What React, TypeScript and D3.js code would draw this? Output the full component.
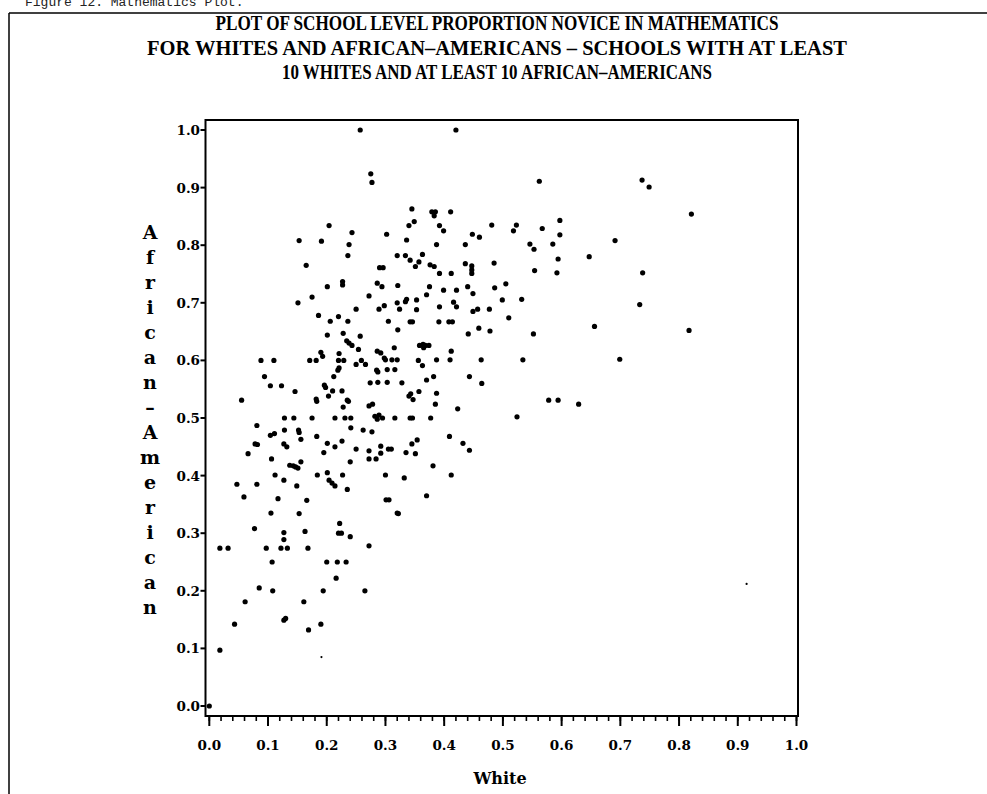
import React from "react";
import * as d3 from "d3";

const titleLines = [
  "PLOT OF SCHOOL LEVEL PROPORTION NOVICE IN MATHEMATICS",
  "FOR WHITES AND AFRICAN\u2013AMERICANS \u2013 SCHOOLS WITH AT LEAST",
  "10 WHITES AND AT LEAST 10 AFRICAN\u2013AMERICANS",
];
const caption = "Figure 12. Mathematics Plot.";
const xLabel = "White";
const yLabel = "African\u2013American";
const xTicks = [0, 0.1, 0.2, 0.3, 0.4, 0.5, 0.6, 0.7, 0.8, 0.9, 1.0];
const xTickLabels = ["0.0", "0.1", "0.2", "0.3", "0.4", "0.5", "0.6", "0.7", "0.8", "0.9", "1.0"];
const yTicks = [0, 0.1, 0.2, 0.3, 0.4, 0.5, 0.6, 0.7, 0.8, 0.9, 1.0];
const yTickLabels = ["0.0", "0.1", "0.2", "0.3", "0.4", "0.5", "0.6", "0.7", "0.8", "0.9", "1.0"];

// proportion novice: white (x), African-American (y)
const white = [
  0.257, 0.275, 0.277, 0.204, 0.153, 0.191, 0.243, 0.238, 0.302, 0.236,
  0.320, 0.165, 0.290, 0.296, 0.227, 0.227, 0.201, 0.286, 0.294, 0.321,
  0.175, 0.272, 0.151, 0.320, 0.298, 0.250, 0.289, 0.186, 0.206, 0.220,
  0.236, 0.305, 0.321, 0.201, 0.228, 0.257, 0.234, 0.238, 0.243, 0.254,
  0.315, 0.286, 0.292, 0.190, 0.193, 0.221, 0.088, 0.110, 0.171, 0.182,
  0.220, 0.229, 0.259, 0.250, 0.266, 0.300, 0.311, 0.320, 0.219, 0.221,
  0.285, 0.287, 0.303, 0.316, 0.094, 0.212, 0.274, 0.287, 0.303, 0.104,
  0.123, 0.196, 0.198, 0.203, 0.210, 0.226, 0.146, 0.235, 0.237, 0.182,
  0.183, 0.055, 0.228, 0.272, 0.278, 0.282, 0.286, 0.289, 0.128, 0.144,
  0.175, 0.214, 0.231, 0.241, 0.316, 0.081, 0.241, 0.152, 0.153, 0.128,
  0.262, 0.277, 0.104, 0.111, 0.156, 0.183, 0.226, 0.078, 0.082, 0.127,
  0.132, 0.201, 0.214, 0.250, 0.272, 0.272, 0.284, 0.292, 0.292, 0.305,
  0.310, 0.195, 0.066, 0.106, 0.240, 0.156, 0.137, 0.143, 0.147, 0.151,
  0.112, 0.184, 0.201, 0.204, 0.209, 0.214, 0.227, 0.300, 0.127, 0.047,
  0.081, 0.149, 0.235, 0.059, 0.117, 0.166, 0.301, 0.306, 0.105, 0.153,
  0.320, 0.077, 0.127, 0.127, 0.163, 0.222, 0.220, 0.225, 0.240, 0.272,
  0.018, 0.032, 0.097, 0.122, 0.133, 0.168, 0.107, 0.200, 0.218, 0.233,
  0.216, 0.085, 0.108, 0.194, 0.265, 0.061, 0.161, 0.043, 0.127, 0.130,
  0.169, 0.190, 0.018, 0.000,
  0.420, 0.562, 0.737, 0.749, 0.821, 0.345, 0.379, 0.385, 0.383, 0.411,
  0.340, 0.349, 0.392, 0.399, 0.336, 0.481, 0.518, 0.523, 0.567, 0.597,
  0.597, 0.448, 0.460, 0.387, 0.436, 0.546, 0.553, 0.585, 0.594, 0.691,
  0.647, 0.334, 0.363, 0.357, 0.351, 0.342, 0.376, 0.383, 0.392, 0.412,
  0.436, 0.447, 0.447, 0.447, 0.485, 0.554, 0.592, 0.738, 0.375, 0.399,
  0.421, 0.440, 0.449, 0.486, 0.505, 0.370, 0.334, 0.336, 0.353, 0.392,
  0.416, 0.421, 0.499, 0.532, 0.733, 0.457, 0.477, 0.324, 0.353,
  0.449, 0.510, 0.342, 0.346, 0.391, 0.408, 0.414, 0.441, 0.459, 0.478,
  0.552, 0.656, 0.817, 0.358, 0.364, 0.368, 0.374, 0.365, 0.412, 0.298,
  0.356, 0.363, 0.387, 0.410, 0.463, 0.534, 0.699, 0.328, 0.370, 0.382,
  0.443, 0.464, 0.357, 0.340, 0.343, 0.347, 0.387, 0.385, 0.423, 0.578,
  0.594, 0.629, 0.295, 0.342, 0.346, 0.377, 0.524, 0.409, 0.432, 0.443,
  0.345, 0.354, 0.335, 0.351, 0.381, 0.332, 0.412, 0.370, 0.322,
];
const africanAmerican = [
  1.000, 0.924, 0.909, 0.834, 0.808, 0.807, 0.822, 0.801, 0.819, 0.782,
  0.782, 0.765, 0.761, 0.761, 0.737, 0.731, 0.728, 0.734, 0.728, 0.730,
  0.710, 0.712, 0.700, 0.700, 0.695, 0.689, 0.689, 0.678, 0.668, 0.676,
  0.668, 0.668, 0.653, 0.644, 0.647, 0.642, 0.634, 0.630, 0.626, 0.619,
  0.622, 0.616, 0.613, 0.614, 0.607, 0.612, 0.600, 0.600, 0.600, 0.600,
  0.600, 0.600, 0.600, 0.593, 0.593, 0.601, 0.601, 0.601, 0.583, 0.587,
  0.583, 0.580, 0.584, 0.584, 0.572, 0.572, 0.561, 0.562, 0.562, 0.556,
  0.556, 0.557, 0.553, 0.538, 0.547, 0.547, 0.546, 0.531, 0.529, 0.533,
  0.529, 0.531, 0.519, 0.521, 0.524, 0.503, 0.498, 0.505, 0.500, 0.500,
  0.500, 0.500, 0.500, 0.500, 0.500, 0.487, 0.483, 0.479, 0.475, 0.479,
  0.479, 0.476, 0.470, 0.473, 0.463, 0.468, 0.460, 0.455, 0.454, 0.455,
  0.450, 0.456, 0.450, 0.446, 0.443, 0.429, 0.429, 0.451, 0.439, 0.446,
  0.446, 0.440, 0.438, 0.429, 0.424, 0.424, 0.418, 0.417, 0.415, 0.413,
  0.401, 0.401, 0.405, 0.392, 0.387, 0.382, 0.401, 0.401, 0.392, 0.385,
  0.385, 0.382, 0.376, 0.363, 0.360, 0.357, 0.358, 0.358, 0.335, 0.334,
  0.335, 0.308, 0.301, 0.289, 0.303, 0.317, 0.300, 0.300, 0.294, 0.278,
  0.274, 0.274, 0.274, 0.274, 0.274, 0.274, 0.250, 0.250, 0.250, 0.250,
  0.222, 0.205, 0.200, 0.200, 0.200, 0.181, 0.181, 0.142, 0.149, 0.152,
  0.132, 0.142, 0.097, 0.000,
  1.000, 0.911, 0.913, 0.901, 0.854, 0.863, 0.858, 0.858, 0.851, 0.858,
  0.834, 0.841, 0.834, 0.825, 0.809, 0.835, 0.825, 0.835, 0.829, 0.843,
  0.818, 0.819, 0.814, 0.801, 0.801, 0.802, 0.793, 0.802, 0.776, 0.808,
  0.780, 0.782, 0.784, 0.771, 0.763, 0.774, 0.766, 0.763, 0.751, 0.751,
  0.768, 0.764, 0.757, 0.751, 0.769, 0.756, 0.752, 0.752, 0.728, 0.722,
  0.722, 0.728, 0.716, 0.726, 0.733, 0.714, 0.702, 0.706, 0.705, 0.693,
  0.701, 0.693, 0.705, 0.706, 0.697, 0.689, 0.689, 0.689, 0.688,
  0.685, 0.674, 0.667, 0.667, 0.667, 0.667, 0.667, 0.646, 0.656, 0.651,
  0.646, 0.659, 0.652, 0.626, 0.628, 0.626, 0.626, 0.622, 0.616, 0.604,
  0.600, 0.591, 0.601, 0.601, 0.601, 0.601, 0.602, 0.561, 0.566, 0.572,
  0.572, 0.560, 0.546, 0.538, 0.542, 0.532, 0.543, 0.524, 0.516, 0.531,
  0.531, 0.524, 0.500, 0.500, 0.500, 0.500, 0.502, 0.468, 0.456, 0.444,
  0.455, 0.462, 0.440, 0.438, 0.417, 0.396, 0.401, 0.365, 0.334,
];
// faint, smaller marks
const whiteFaint = [0.191, 0.915];
const africanAmericanFaint = [0.085, 0.212];

export default function App() {
  const W = 987;
  const H = 794;
  const frame = { left: 205.5, right: 798, top: 120, bottom: 716 };
  const x = d3.scaleLinear().domain([0, 1]).range([209.3, 796.5]);
  const y = d3.scaleLinear().domain([0, 1]).range([706, 130]);
  const minorX = d3.range(0, 1.0001, 0.02);
  const serifBold = "'DejaVu Serif', 'Liberation Serif', serif";
  const titleFont = "'Liberation Serif', 'DejaVu Serif', serif";
  const titleSpans = [
    { cx: 497, base: 30, len: 563 },
    { cx: 497, base: 55, len: 700 },
    { cx: 497, base: 79, len: 430 },
  ];
  const yLetters = Array.from(yLabel);
  const letterStart = 232;
  const letterStep = 25;

  return (
    <svg
      width={W}
      height={H}
      viewBox={`0 0 ${W} ${H}`}
      style={{ position: "absolute", left: 0, top: 0, background: "#fff" }}
    >
      <rect x={0} y={0} width={W} height={H} fill="#fff" />
      {/* partly cut caption at very top, as in the scanned page */}
      <text x={25} y={6} fontFamily="'Liberation Mono', 'DejaVu Sans Mono', monospace" fontSize={13} fill="#222">
        {caption}
      </text>
      {/* outer page frame */}
      <line x1={9} y1={13} x2={W} y2={13} stroke="#000" strokeWidth={1.5} />
      <line x1={9} y1={13} x2={9} y2={H} stroke="#000" strokeWidth={1.5} />

      {titleLines.map((t, i) => (
        <text
          key={i}
          x={titleSpans[i].cx}
          y={titleSpans[i].base}
          textAnchor="middle"
          fontFamily={titleFont}
          fontWeight="bold"
          fontSize={21}
          textLength={titleSpans[i].len}
          lengthAdjust="spacingAndGlyphs"
          fill="#000"
        >
          {t}
        </text>
      ))}

      {/* plot frame */}
      <rect
        x={frame.left}
        y={frame.top}
        width={frame.right - frame.left}
        height={frame.bottom - frame.top}
        fill="none"
        stroke="#000"
        strokeWidth={2}
      />

      {/* x ticks */}
      {minorX.map((v, i) => (
        <line key={"mx" + i} x1={x(v)} x2={x(v)} y1={frame.bottom} y2={frame.bottom + 5} stroke="#000" strokeWidth={1.6} />
      ))}
      {xTicks.map((v, i) => (
        <g key={"xt" + i}>
          <line x1={x(v)} x2={x(v)} y1={frame.bottom} y2={frame.bottom + 10} stroke="#000" strokeWidth={2} />
          <text
            x={x(v)}
            y={750}
            textAnchor="middle"
            fontFamily={serifBold}
            fontWeight="bold"
            fontSize={13.5}
            fill="#000"
          >
            {xTickLabels[i]}
          </text>
        </g>
      ))}

      {/* y ticks */}
      {yTicks.map((v, i) => (
        <g key={"yt" + i}>
          <line x1={frame.left - 5} x2={frame.left} y1={y(v)} y2={y(v)} stroke="#000" strokeWidth={2} />
          <text
            x={200}
            y={y(v) + 5}
            textAnchor="end"
            fontFamily={serifBold}
            fontWeight="bold"
            fontSize={13.5}
            fill="#000"
          >
            {yTickLabels[i]}
          </text>
        </g>
      ))}

      {/* axis labels */}
      <text x={500} y={784} textAnchor="middle" fontFamily={serifBold} fontWeight="bold" fontSize={16} fill="#000">
        {xLabel}
      </text>
      {yLetters.map((ch, i) => (
        <text
          key={"yl" + i}
          x={150}
          y={letterStart + i * letterStep + 7}
          textAnchor="middle"
          fontFamily={serifBold}
          fontWeight="bold"
          fontSize={19}
          fill="#000"
        >
          {ch}
        </text>
      ))}

      {/* points */}
      {white.map((v, i) => (
        <circle key={"p" + i} cx={x(v)} cy={y(africanAmerican[i])} r={2.6} fill="#000" />
      ))}
      {whiteFaint.map((v, i) => (
        <circle key={"f" + i} cx={x(v)} cy={y(africanAmericanFaint[i])} r={1.1} fill="#000" />
      ))}
    </svg>
  );
}
